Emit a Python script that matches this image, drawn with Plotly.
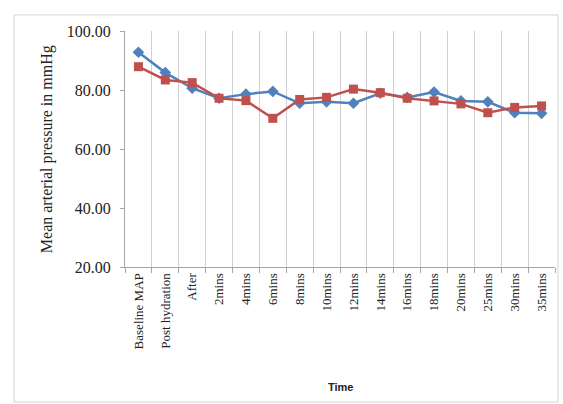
import plotly.graph_objects as go

# Time points along the horizontal axis
categories = ["Baseline MAP", "Post hydration", "After", "2mins", "4mins", "6mins",
              "8mins", "10mins", "12mins", "14mins", "16mins", "18mins", "20mins",
              "25mins", "30mins", "35mins"]

# Mean arterial pressure (mmHg) for the two groups
blue_series = [92.8, 85.9, 80.6, 77.2, 78.6, 79.5, 75.5, 76.0, 75.5, 78.9,
               77.5, 79.3, 76.3, 76.0, 72.3, 72.1]
red_series = [87.9, 83.4, 82.5, 77.2, 76.4, 70.4, 76.8, 77.5, 80.3, 79.1,
              77.2, 76.3, 75.3, 72.3, 74.1, 74.6]

y_ticks = [20, 40, 60, 80, 100]

BLUE = "#4F81BD"
RED = "#C0504D"
SERIF = "Liberation Serif, Times New Roman, serif"

fig = go.Figure()
fig.add_trace(go.Scatter(
    x=categories, y=blue_series, mode="lines+markers",
    line=dict(color=BLUE, width=2.5),
    marker=dict(symbol="diamond", size=9, color=BLUE),
    showlegend=False,
))
fig.add_trace(go.Scatter(
    x=categories, y=red_series, mode="lines+markers",
    line=dict(color=RED, width=2.5),
    marker=dict(symbol="square", size=9, color=RED),
    showlegend=False,
))

fig.update_layout(
    width=563, height=404,
    margin=dict(l=125, r=8, t=31, b=137),
    paper_bgcolor="white", plot_bgcolor="white",
    xaxis=dict(
        type="category", categoryorder="array", categoryarray=categories,
        tickson="boundaries", showgrid=True, gridcolor="#cfcfcf", gridwidth=1,
        ticks="outside", ticklen=5, tickcolor="#a6a6a6",
        showline=True, linecolor="#a6a6a6", linewidth=1,
        tickangle=-90, tickfont=dict(family=SERIF, size=13, color="#222222"),
        range=[-0.5, len(categories) - 0.5], zeroline=False,
    ),
    yaxis=dict(
        range=[20, 100], tickvals=y_ticks, tickformat=".2f",
        showgrid=False, zeroline=False,
        ticks="outside", ticklen=4, tickcolor="#a6a6a6",
        showline=True, linecolor="#a6a6a6", linewidth=1,
        tickfont=dict(family=SERIF, size=16, color="#222222"),
        ticklabelstandoff=6,
    ),
    shapes=[dict(
        type="rect", xref="paper", yref="paper",
        x0=-0.258, x1=1.007, y0=-0.572, y1=1.068,
        line=dict(color="#d4d4d4", width=1), fillcolor="rgba(0,0,0,0)",
        layer="below",
    )],
    annotations=[
        dict(text="Mean arterial pressure in mmHg", textangle=-90,
             xref="paper", yref="paper", x=-0.181, y=0.5,
             xanchor="center", yanchor="middle", showarrow=False,
             font=dict(family=SERIF, size=16, color="#222222")),
        dict(text="<b>Time</b>",
             xref="paper", yref="paper", x=0.5, y=-0.51,
             xanchor="center", yanchor="middle", showarrow=False,
             font=dict(family="Liberation Sans, Arial, sans-serif", size=11,
                       color="#222222")),
    ],
)

fig.write_html("out.html")
